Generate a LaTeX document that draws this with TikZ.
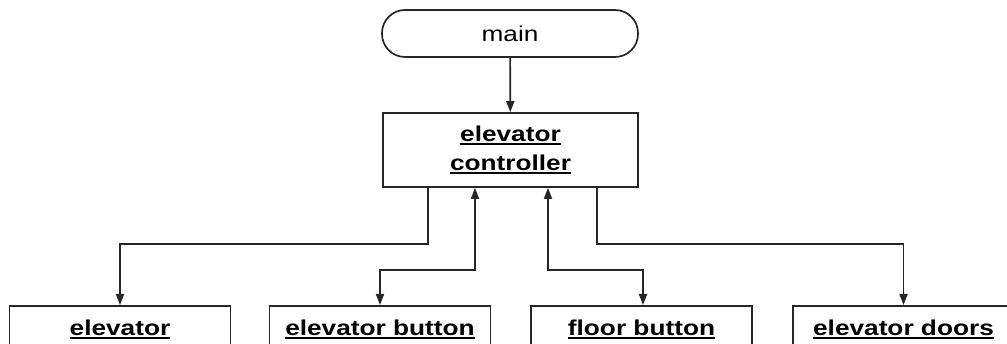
\documentclass[tikz,border=0pt]{standalone}
\usepackage{fontspec}
\setmainfont[FakeStretch=1.22]{Liberation Sans}
\usetikzlibrary{arrows.meta}
\newcommand\ulbx[1]{\setbox0\hbox{#1}\leavevmode\rlap{\rule[-3pt]{\wd0}{1.6pt}}\box0}
\tikzset{
  box/.style={draw=black!85, line width=1.7pt, fill=white, inner sep=0pt},
  botbox/.style={box, minimum width=221pt, anchor=north, text height=16pt, text depth=4pt, inner ysep=14pt, font=\fontsize{21.5}{29}\selectfont\bfseries},
  arr/.style={draw=black!85, line width=1.7pt, -{Triangle[length=11pt,width=8pt]}},
  dbl/.style={draw=black!85, line width=1.7pt, {Triangle[length=11pt,width=8pt]}-{Triangle[length=11pt,width=8pt]}},
}
\begin{document}
\begin{tikzpicture}[x=1pt,y=-1pt]
\useasboundingbox (0,0) rectangle (1007,344);
\clip (0,0) rectangle (1007,344);
\fill[white] (0,0) rectangle (1007,344);
\node[box, rounded corners=23pt, minimum width=256pt, minimum height=47pt, font=\fontsize{21.5}{29}\selectfont] (main) at (510,33.5) {main};
\node[box, minimum width=255pt, minimum height=74pt, align=center, font=\fontsize{21.5}{29}\selectfont\bfseries] (ctrl) at (510.5,150) {\ulbx{elevator}\\\ulbx{controller}};
\node[botbox] (e1) at (120,305) {\ulbx{elevator}};
\node[botbox] (e2) at (380,305) {\ulbx{elevator button}};
\node[botbox] (e3) at (641.5,305) {\ulbx{floor button}};
\node[botbox] (e4) at (903.5,305) {\ulbx{elevator doors}};
\draw[arr] (main) -- (ctrl);
\draw[arr] ([xshift=-82.5pt]ctrl.south) -- ++(0,56) -| (e1.north);
\draw[dbl] ([xshift=-35.5pt]ctrl.south) -- ++(0,82) -| (e2.north);
\draw[dbl] ([xshift=37.5pt]ctrl.south) -- ++(0,82) -| ([xshift=1.5pt]e3.north);
\draw[arr] ([xshift=86.5pt]ctrl.south) -- ++(0,56) -| (e4.north);
\end{tikzpicture}
\end{document}
